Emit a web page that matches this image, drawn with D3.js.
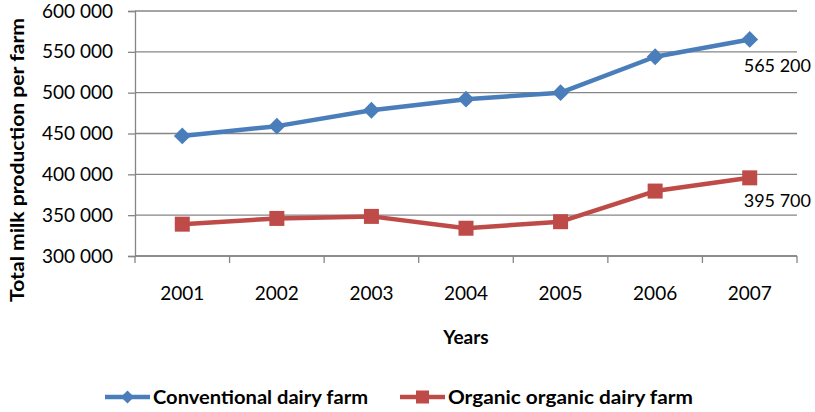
<!DOCTYPE html>
<html>
<head>
<meta charset="utf-8">
<script src="https://cdn.jsdelivr.net/npm/d3@7"></script>
<style>
  html, body { margin: 0; padding: 0; background: #fff; }
  svg { display: block; }
  text { font-family: Lato, "Open Sans", sans-serif; fill: #000; }
</style>
</head>
<body>
<svg id="chart" width="815" height="412"></svg>
<script>
// Milk production per farm, 2001–2007
const years = ["2001", "2002", "2003", "2004", "2005", "2006", "2007"];
const conventional = [447000, 459000, 478500, 492000, 500000, 544000, 565200];
const organic = [339000, 346000, 348500, 334000, 342000, 379500, 395700];
const yTicks = [300000, 350000, 400000, 450000, 500000, 550000, 600000];
const seriesNames = ["Conventional dairy farm", "Organic organic dairy farm"];
const seriesColors = ["#4A7EBB", "#BE4B48"];

const svg = d3.select("#chart");
const plot = { left: 135, right: 797, top: 11, bottom: 256 };

const x = d3.scaleBand().domain(years).range([plot.left, plot.right]).padding(0);
const y = d3.scaleLinear().domain([300000, 600000]).range([plot.bottom, plot.top]);

const fmt = d3.formatLocale({ decimal: ".", thousands: " ", grouping: [3], currency: ["", ""] }).format(",");

const gridColor = "#868686";

// horizontal gridlines
svg.append("g").selectAll("line").data(yTicks).join("line")
  .attr("x1", plot.left).attr("x2", plot.right)
  .attr("y1", d => y(d)).attr("y2", d => y(d))
  .attr("stroke", gridColor).attr("stroke-width", 1.3);

// left axis
const yAxis = d3.axisLeft(y).tickValues(yTicks).tickSize(7).tickPadding(15).tickFormat(fmt);
const gy = svg.append("g").attr("transform", `translate(${plot.left},0)`).call(yAxis);
gy.select(".domain").attr("stroke", gridColor).attr("stroke-width", 1.3);
gy.selectAll(".tick line").attr("stroke", gridColor).attr("stroke-width", 1.3);
gy.selectAll(".tick text").attr("font-size", 19).attr("font-family", "Lato, sans-serif").attr("fill", "#000");

// bottom axis: ticks at category boundaries
const gx = svg.append("g").attr("transform", `translate(0,${plot.bottom})`);
gx.append("line").attr("x1", plot.left).attr("x2", plot.right)
  .attr("stroke", gridColor).attr("stroke-width", 1.3);
const bounds = years.map(d => x(d)).concat([x(years[years.length - 1]) + x.bandwidth()]);
gx.selectAll("line.tk").data(bounds).join("line").attr("class", "tk")
  .attr("x1", d => d).attr("x2", d => d).attr("y1", 0).attr("y2", 7)
  .attr("stroke", gridColor).attr("stroke-width", 1.3);
gx.selectAll("text").data(years).join("text")
  .attr("x", d => x(d) + x.bandwidth() / 2).attr("y", 44)
  .attr("text-anchor", "middle").attr("font-size", 19)
  .text(d => d);

const cx = d => x(d) + x.bandwidth() / 2;
const line = d3.line().x((d, i) => cx(years[i])).y(d => y(d));

// conventional series: line + diamonds
svg.append("path").datum(conventional).attr("d", line)
  .attr("fill", "none").attr("stroke", seriesColors[0]).attr("stroke-width", 4.5)
  .attr("stroke-linejoin", "round");
const diamond = d3.symbol().type(d3.symbolDiamond2).size(180);
svg.append("g").selectAll("path").data(conventional).join("path")
  .attr("transform", (d, i) => `translate(${cx(years[i])},${y(d)})`)
  .attr("d", diamond).attr("fill", seriesColors[0]);

// organic series: line + squares
svg.append("path").datum(organic).attr("d", line)
  .attr("fill", "none").attr("stroke", seriesColors[1]).attr("stroke-width", 4.5)
  .attr("stroke-linejoin", "round");
const sq = 15;
svg.append("g").selectAll("rect").data(organic).join("rect")
  .attr("x", (d, i) => cx(years[i]) - sq / 2).attr("y", d => y(d) - sq / 2)
  .attr("width", sq).attr("height", sq).attr("fill", seriesColors[1]);

// value labels on the last points
const last = years.length - 1;
[[conventional, 32.5], [organic, 29]].forEach(([s, dy]) => {
  svg.append("text")
    .attr("x", cx(years[last]) - 6).attr("y", y(s[last]) + dy)
    .attr("font-size", 18).text(fmt(s[last]));
});

// axis titles
svg.append("text")
  .attr("transform", "translate(24,160) rotate(-90)")
  .attr("text-anchor", "middle").attr("font-size", 18).attr("font-weight", "bold")
  .attr("textLength", 284).attr("lengthAdjust", "spacingAndGlyphs")
  .text("Total milk production per farm");
svg.append("text")
  .attr("x", 466).attr("y", 344).attr("text-anchor", "middle")
  .attr("font-size", 19).attr("font-weight", "bold").text("Years");

// legend
const legendItems = [
  { name: seriesNames[0], color: seriesColors[0], kind: "diamond", x: 105, tl: 215 },
  { name: seriesNames[1], color: seriesColors[1], kind: "square", x: 400, tl: 245 }
];
const lg = svg.append("g");
legendItems.forEach(it => {
  const g = lg.append("g").attr("transform", `translate(${it.x},397)`);
  g.append("line").attr("x1", 0).attr("x2", 45).attr("stroke", it.color).attr("stroke-width", 4.5);
  if (it.kind === "diamond") {
    g.append("path").attr("transform", "translate(22.5,0)")
      .attr("d", d3.symbol().type(d3.symbolDiamond2).size(110)).attr("fill", it.color);
  } else {
    g.append("rect").attr("x", 22.5 - 6.5).attr("y", -6.5).attr("width", 13).attr("height", 13).attr("fill", it.color);
  }
  g.append("text").attr("x", 48).attr("y", 7).attr("font-size", 19).attr("font-weight", "bold")
    .attr("textLength", it.tl).attr("lengthAdjust", "spacingAndGlyphs").text(it.name);
});
</script>
</body>
</html>
